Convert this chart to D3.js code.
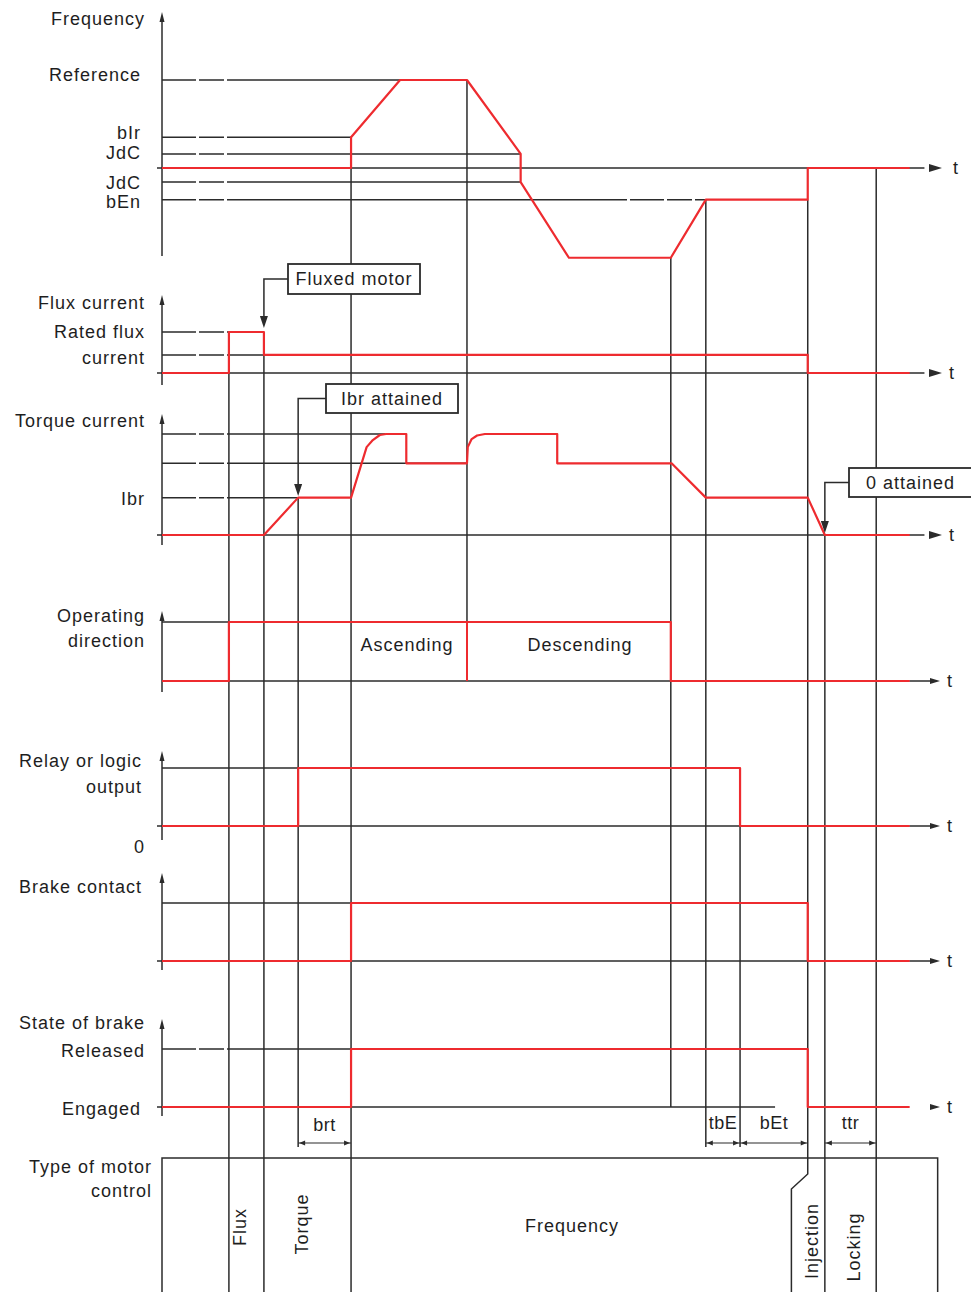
<!DOCTYPE html>
<html>
<head>
<meta charset="utf-8">
<script src="https://cdn.jsdelivr.net/npm/d3@7"></script>
<style>
  body { margin: 0; background: #fff; }
  text { font-family: "Liberation Sans", Arial, sans-serif; font-size: 18px; fill: #1e1e1e; letter-spacing: 1px; }
</style>
</head>
<body>
<div id="chart"></div>
<script>
// ---- data: times along t (0..100), levels per panel ----
var tEnd = 96.1;

// frequency panel
var freqLevelNames  = ["Reference", "bIr", "JdC", "JdC", "bEn"];
var freqLevelValues = [1.0, 0.35, 0.16, -0.16, -0.36];
var freqGuideEnds   = [30.6, 24.3, 46.1, 46.1, 69.9];
var freqTrace = [[0,0],[24.3,0],[24.3,0.35],[30.6,1],[39.2,1],[46.1,0.16],[46.1,-0.16],
                 [52.3,-1.02],[65.4,-1.02],[69.9,-0.36],[83.0,-0.36],[83.0,0],[tEnd,0]];

// flux current panel
var fluxLevelValues = [1.0, 0.44];
var fluxGuideEnds   = [8.6, 13.1];
var fluxTrace = [[0,0],[8.6,0],[8.6,1],[13.1,1],[13.1,0.44],[83.0,0.44],[83.0,0],[tEnd,0]];

// torque current panel
var torqueLevelValues = [1.0, 0.71, 0.37];
var torqueGuideEnds   = [28.7, 39.2, 17.5];
var torqueTrace = [[0,0],[13.1,0],[17.5,0.37],[24.3,0.37],[26.3,0.87],[27.1,0.94],[28.0,0.99],
                   [28.8,1],[31.4,1],[31.4,0.71],[39.2,0.71],[39.3,0.87],[39.8,0.95],[40.5,0.985],
                   [41.5,1],[50.8,1],[50.8,0.71],[65.5,0.71],[69.9,0.37],[83.0,0.37],[85.2,0],[tEnd,0]];

// logic panels
var opTrace      = [[0,0],[8.6,0],[8.6,1],[65.4,1],[65.4,0],[tEnd,0]];
var opDivider    = 39.2;
var relayTrace   = [[0,0],[17.5,0],[17.5,1],[74.3,1],[74.3,0],[tEnd,0]];
var contactTrace = [[0,0],[24.3,0],[24.3,1],[83.0,1],[83.0,0],[tEnd,0]];
var brakeTrace   = [[0,0],[24.3,0],[24.3,1],[83.0,1],[83.0,0],[tEnd,0]];

// timing dimensions
var dimNames = ["brt", "tbE", "bEt", "ttr"];
var dimFrom  = [17.5, 69.9, 74.3, 85.2];
var dimTo    = [24.3, 74.3, 83.0, 91.8];

// motor control phases
var modeNames  = ["Flux", "Torque", "Frequency", "Injection", "Locking"];
var modeCenter = [10.0, 18.0, 52.7, 83.6, 88.9];
var modeVertical = [true, true, false, true, true];

// ---- drawing ----
var W = 971, H = 1292;
var BLACK = "#2b2b2b", RED = "#ee2b2f";
var GUIDE_DASH = "34,3,25,3,400,3";

var svg = d3.select("#chart").append("svg").attr("width", W).attr("height", H);
svg.append("rect").attr("width", W).attr("height", H).attr("fill", "#fff");

var x = d3.scaleLinear().domain([0, 100]).range([162, 940]);

var fy  = d3.scaleLinear().domain([0, 1]).range([168, 80]);
var fly = d3.scaleLinear().domain([0, 1]).range([373, 332]);
var tqy = d3.scaleLinear().domain([0, 1]).range([535, 434]);
var opy = d3.scaleLinear().domain([0, 1]).range([681, 622]);
var rly = d3.scaleLinear().domain([0, 1]).range([826, 768]);
var bcy = d3.scaleLinear().domain([0, 1]).range([961, 903]);
var bsy = d3.scaleLinear().domain([0, 1]).range([1107, 1049]);

var gGrid = svg.append("g");
var gTrace = svg.append("g");
var gTop = svg.append("g");

function hline(g, t0, t1, y, dashed) {
  g.append("line").attr("x1", x(t0)).attr("x2", x(t1)).attr("y1", y).attr("y2", y)
    .attr("stroke", BLACK).attr("stroke-width", 1.5)
    .attr("stroke-dasharray", dashed ? GUIDE_DASH : null);
}
function vline(g, t, y0, y1) {
  g.append("line").attr("x1", x(t)).attr("x2", x(t)).attr("y1", y0).attr("y2", y1)
    .attr("stroke", BLACK).attr("stroke-width", 1.5);
}
function yAxis(top, bottom, tick, base) {
  vline(gGrid, 0, top + 4, bottom);
  gGrid.append("path")
    .attr("d", "M" + (x(0) - 2.5) + "," + (top + 10) + "L" + x(0) + "," + top + "L" + (x(0) + 2.5) + "," + (top + 10) + "Z")
    .attr("fill", BLACK);
  if (tick) gGrid.append("line").attr("x1", x(0) - 5).attr("x2", x(0)).attr("y1", base).attr("y2", base)
    .attr("stroke", BLACK).attr("stroke-width", 1.5);
}
// style: "big" arrow, "small" arrow on a line, "loose" arrow with no line
function tAxis(y, lineEnd, style, tx) {
  gGrid.append("line").attr("x1", x(0)).attr("x2", x(lineEnd)).attr("y1", y).attr("y2", y)
    .attr("stroke", BLACK).attr("stroke-width", 1.5);
  if (style === "big") {
    gGrid.append("path").attr("d", "M929," + (y - 4) + "L942," + y + "L929," + (y + 4) + "Z").attr("fill", BLACK);
  } else {
    if (style === "small") {
      gGrid.append("line").attr("x1", x(lineEnd)).attr("x2", 934).attr("y1", y).attr("y2", y)
        .attr("stroke", BLACK).attr("stroke-width", 1.5);
    }
    gGrid.append("path").attr("d", "M930," + (y - 3) + "L940," + y + "L930," + (y + 3) + "Z").attr("fill", BLACK);
  }
  label("t", tx, y + 6, "start");
}
function label(txt, px, py, anchor) {
  return gTop.append("text").attr("x", px).attr("y", py)
    .attr("text-anchor", anchor || "end").text(txt);
}
function trace(data, sc) {
  gTrace.append("path").datum(data)
    .attr("d", d3.line().x(function (d) { return x(d[0]); }).y(function (d) { return sc(d[1]); }))
    .attr("fill", "none").attr("stroke", RED).attr("stroke-width", 2.2)
    .attr("stroke-linejoin", "round");
}
function callout(txt, bx0, by0, bx1, by1, tipT, tipY) {
  var my = (by0 + by1) / 2;
  gTop.append("path")
    .attr("d", "M" + bx0 + "," + my + "H" + x(tipT) + "V" + (tipY - 10))
    .attr("fill", "none").attr("stroke", BLACK).attr("stroke-width", 1.5);
  gTop.append("path")
    .attr("d", "M" + (x(tipT) - 4) + "," + (tipY - 12) + "L" + x(tipT) + "," + tipY + "L" + (x(tipT) + 4) + "," + (tipY - 12) + "Z")
    .attr("fill", BLACK);
  gTop.append("rect").attr("x", bx0).attr("y", by0).attr("width", bx1 - bx0).attr("height", by1 - by0)
    .attr("fill", "#fff").attr("stroke", BLACK).attr("stroke-width", 1.8);
  label(txt, (bx0 + bx1) / 2, my + 6, "middle");
}

// --- vertical event lines ---
var bottom = H;
vline(gGrid, 8.6, fly(1), bottom);
vline(gGrid, 13.1, fly(1), bottom);
vline(gGrid, 17.5, tqy(0.37), 1147);
vline(gGrid, 24.3, fy(0.35), bottom);
vline(gGrid, 39.2, fy(1), opy(0));
vline(gGrid, 65.4, fy(-1.02), bsy(0));
vline(gGrid, 69.9, fy(-0.36), 1147);
vline(gGrid, 74.3, rly(1), 1147);
gGrid.append("path")
  .attr("d", "M" + x(83.0) + "," + fy(-0.36) + "V1174L" + x(80.9) + ",1189V" + bottom)
  .attr("fill", "none").attr("stroke", BLACK).attr("stroke-width", 1.5);
vline(gGrid, 85.2, tqy(0), bottom);
vline(gGrid, 91.8, fy(0), bottom);

// --- frequency panel ---
yAxis(12, 256, true, fy(0));
freqLevelValues.forEach(function (v, i) { hline(gGrid, 0, freqGuideEnds[i], fy(v), true); });
tAxis(fy(0), 98, "big", 953);
trace(freqTrace, fy);
label("Frequency", 145, 25);
var freqLabelDy = [1, 2, 5, 7, 8];
freqLevelNames.forEach(function (n, i) { label(n, 141, fy(freqLevelValues[i]) + freqLabelDy[i]); });

// --- flux panel ---
yAxis(295, 385, true, fly(0));
fluxLevelValues.forEach(function (v, i) { hline(gGrid, 0, fluxGuideEnds[i], fly(v), true); });
tAxis(fly(0), 98, "big", 949);
trace(fluxTrace, fly);
label("Flux current", 145, 309);
label("Rated flux", 145, 338);
label("current", 145, 364);
callout("Fluxed motor", 288, 264, 420, 294, 13.1, 328);

// --- torque panel ---
yAxis(414, 545, true, tqy(0));
torqueLevelValues.forEach(function (v, i) { hline(gGrid, 0, torqueGuideEnds[i], tqy(v), true); });
tAxis(tqy(0), 98, "big", 949);
trace(torqueTrace, tqy);
label("Torque current", 145, 427);
label("Ibr", 145, 505);
callout("Ibr attained", 326, 384, 458, 413, 17.5, 496);
callout("0 attained", 849, 468, 972, 497, 85.2, 533);

// --- operating direction ---
yAxis(611, 692, false, opy(0));
hline(gGrid, 0, 8.6, opy(1), false);
tAxis(opy(0), tEnd, "small", 947);
trace(opTrace, opy);
gTrace.append("line").attr("x1", x(opDivider)).attr("x2", x(opDivider))
  .attr("y1", opy(1)).attr("y2", opy(0)).attr("stroke", RED).attr("stroke-width", 2);
label("Operating", 145, 622);
label("direction", 145, 647);
label("Ascending", 407, 651, "middle");
label("Descending", 580, 651, "middle");

// --- relay output ---
yAxis(751, 840, true, rly(0));
hline(gGrid, 0, 17.5, rly(1), false);
tAxis(rly(0), tEnd, "small", 947);
trace(relayTrace, rly);
label("Relay or logic", 142, 767);
label("output", 142, 793);
label("0", 145, 853);

// --- brake contact ---
yAxis(873, 970, true, bcy(0));
hline(gGrid, 0, 24.3, bcy(1), false);
tAxis(bcy(0), tEnd, "small", 947);
trace(contactTrace, bcy);
label("Brake contact", 142, 893);

// --- state of brake ---
yAxis(1019, 1116, true, bsy(0));
hline(gGrid, 0, 24.3, bsy(1), true);
tAxis(bsy(0), 78.8, "loose", 947);
trace(brakeTrace, bsy);
label("State of brake", 145, 1029);
label("Released", 145, 1057);
label("Engaged", 141, 1115);

// --- timing dimensions ---
dimNames.forEach(function (n, i) {
  var a = x(dimFrom[i]), b = x(dimTo[i]), y = 1143;
  gGrid.append("line").attr("x1", a).attr("x2", b).attr("y1", y).attr("y2", y)
    .attr("stroke", BLACK).attr("stroke-width", 1.2);
  gGrid.append("path").attr("d", "M" + (a + 7) + "," + (y - 2.5) + "L" + (a + 1) + "," + y + "L" + (a + 7) + "," + (y + 2.5) + "Z").attr("fill", BLACK);
  gGrid.append("path").attr("d", "M" + (b - 7) + "," + (y - 2.5) + "L" + (b - 1) + "," + y + "L" + (b - 7) + "," + (y + 2.5) + "Z").attr("fill", BLACK);
  label(n, (a + b) / 2, i === 0 ? 1131 : 1129, "middle").style("letter-spacing", "0.5px");
});

// --- type of motor control ---
gGrid.append("path")
  .attr("d", "M" + x(0) + "," + bottom + "V1158H" + x(99.7) + "V" + bottom)
  .attr("fill", "none").attr("stroke", BLACK).attr("stroke-width", 1.5);
label("Type of motor", 152, 1173);
label("control", 152, 1197);
var modeY = [1227, 1224, 1232, 1241, 1247];
modeNames.forEach(function (n, i) {
  if (modeVertical[i]) {
    gTop.append("text").attr("text-anchor", "middle")
      .attr("transform", "translate(" + (x(modeCenter[i]) + 6) + "," + modeY[i] + ") rotate(-90)")
      .text(n);
  } else {
    label(n, x(modeCenter[i]), modeY[i], "middle");
  }
});
</script>
</body>
</html>
